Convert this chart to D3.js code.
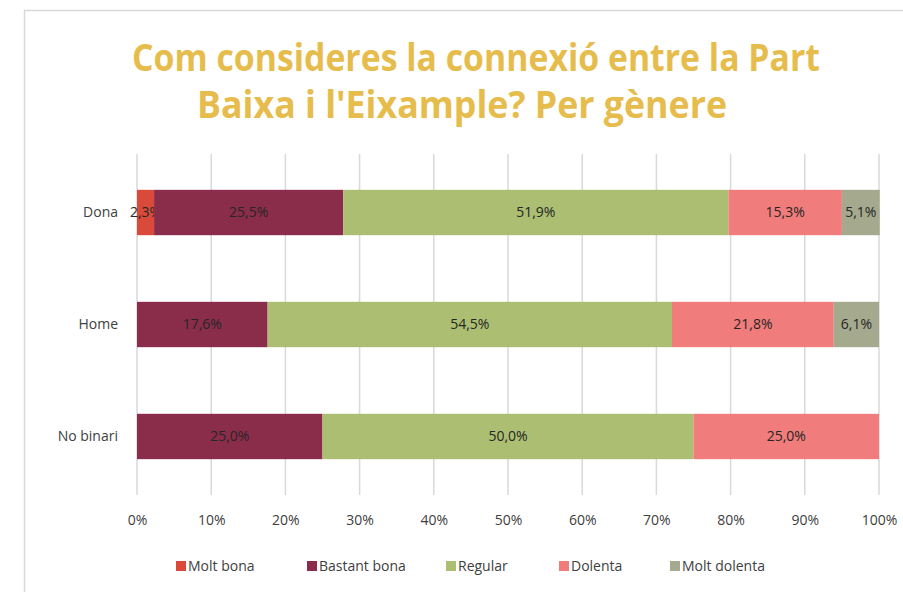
<!DOCTYPE html>
<html>
<head>
<meta charset="utf-8">
<script src="https://cdn.jsdelivr.net/npm/d3@7"></script>
<style>
  body { margin: 0; background: #fff; }
  svg text { font-family: "Open Sans", sans-serif; }
</style>
</head>
<body>
<svg id="graph"></svg>
<script>
// categories and series
let groups = ['Dona', 'Home', 'No binari']
let series = ['Molt bona', 'Bastant bona', 'Regular', 'Dolenta', 'Molt dolenta']
let moltBona = [2.3, 0, 0]
let bastantBona = [25.5, 17.6, 25.0]
let regular = [51.9, 54.5, 50.0]
let dolenta = [15.3, 21.8, 25.0]
let moltDolenta = [5.1, 6.1, 0]
let ticks = [0, 10, 20, 30, 40, 50, 60, 70, 80, 90, 100]
let colors = ['#D94A3A', '#8A2D4B', '#ABBE72', '#F07C7B', '#A5A98E']

let fullWidth = 903, fullHeight = 592
let margin = {top: 154, bottom: 97, left: 137, right: 24}
let width = fullWidth - margin.left - margin.right
let height = fullHeight - margin.top - margin.bottom

let svg = d3.select('svg#graph')
            .attr('width', fullWidth)
            .attr('height', fullHeight)

svg.append('rect')
   .attr('width', fullWidth)
   .attr('height', fullHeight)
   .attr('fill', '#fff')

// chart frame (runs off the right and bottom edges)
svg.append('path')
   .attr('d', 'M24.5,' + (fullHeight + 5) + 'V10.5H' + (fullWidth + 5))
   .attr('fill', 'none')
   .attr('stroke', '#d9d9d9')
   .attr('stroke-width', 1.5)

// title, squeezed to the width of the original narrow font
let titleLines = [
    {text: 'Com consideres la connexió entre la Part', x: 476, y: 71, w: 688},
    {text: "Baixa i l'Eixample? Per gènere", x: 462, y: 118, w: 530}
]
svg.append('g')
   .selectAll('text')
   .data(titleLines)
   .join('text')
   .attr('x', d => d.x)
   .attr('y', d => d.y)
   .attr('text-anchor', 'middle')
   .attr('fill', '#E6BD4C')
   .attr('font-size', 37)
   .attr('font-weight', 'bold')
   .attr('textLength', d => d.w)
   .attr('lengthAdjust', 'spacingAndGlyphs')
   .text(d => d.text)

let rows = groups.map((g, i) => {
    let vals = [moltBona[i], bastantBona[i], regular[i], dolenta[i], moltDolenta[i]]
    let row = {group: g}
    series.forEach((s, j) => row[s] = vals[j])
    return row
})
let stacked = d3.stack().keys(series)(rows)

let x = d3.scaleLinear().domain([0, 100]).range([0, width])
let y = d3.scaleBand().domain(groups).range([0, height]).paddingInner(0.595).paddingOuter(0.32)

let graph = svg.append('g')
               .attr('transform', 'translate(' + margin.left + ',' + margin.top + ')')

graph.append('g')
     .selectAll('line')
     .data(ticks)
     .join('line')
     .attr('x1', d => x(d)).attr('x2', d => x(d))
     .attr('y1', 0).attr('y2', height)
     .attr('stroke', '#d9d9d9')
     .attr('stroke-width', 1.5)

let layers = graph.selectAll('g.layer')
                  .data(stacked)
                  .join('g')
                  .attr('class', 'layer')
                  .attr('fill', (d, i) => colors[i])

layers.selectAll('rect')
      .data(d => d)
      .join('rect')
      .attr('x', d => x(d[0]))
      .attr('width', d => x(d[1]) - x(d[0]))
      .attr('y', d => y(d.data.group))
      .attr('height', y.bandwidth())

layers.selectAll('text')
      .data(d => d.filter(p => p[1] - p[0] > 0))
      .join('text')
      .attr('x', d => x((d[0] + d[1]) / 2))
      .attr('y', d => y(d.data.group) + y.bandwidth() / 2)
      .attr('dy', '0.35em')
      .attr('text-anchor', 'middle')
      .attr('fill', '#262626')
      .attr('font-size', 14)
      .text(d => d3.format('.1f')(d[1] - d[0]).replace('.', ',') + '%')

// x axis labels
let xAxis = graph.append('g')
                 .attr('transform', 'translate(0,' + height + ')')
                 .call(d3.axisBottom(x).tickValues(ticks).tickSize(0).tickPadding(20).tickFormat(d => d + '%'))
xAxis.select('.domain').remove()
xAxis.selectAll('text').attr('font-size', 14).attr('fill', '#404040')
     .style('font-family', '"Open Sans", sans-serif')

// y axis labels
let yAxis = graph.append('g')
                 .call(d3.axisLeft(y).tickSize(0).tickPadding(19))
yAxis.select('.domain').remove()
yAxis.selectAll('text').attr('font-size', 14).attr('fill', '#404040')
     .style('font-family', '"Open Sans", sans-serif')

// legend
let legendX = [176, 307, 446, 559, 670]
let legend = svg.append('g')
                .selectAll('g')
                .data(series)
                .join('g')
                .attr('transform', (d, i) => 'translate(' + legendX[i] + ',566)')
legend.append('rect')
      .attr('x', 0).attr('y', -5)
      .attr('width', 10).attr('height', 10)
      .attr('fill', (d, i) => colors[i])
legend.append('text')
      .attr('x', 12)
      .attr('dy', '0.35em')
      .attr('font-size', 14)
      .attr('fill', '#404040')
      .text(d => d)
</script>
</body>
</html>
